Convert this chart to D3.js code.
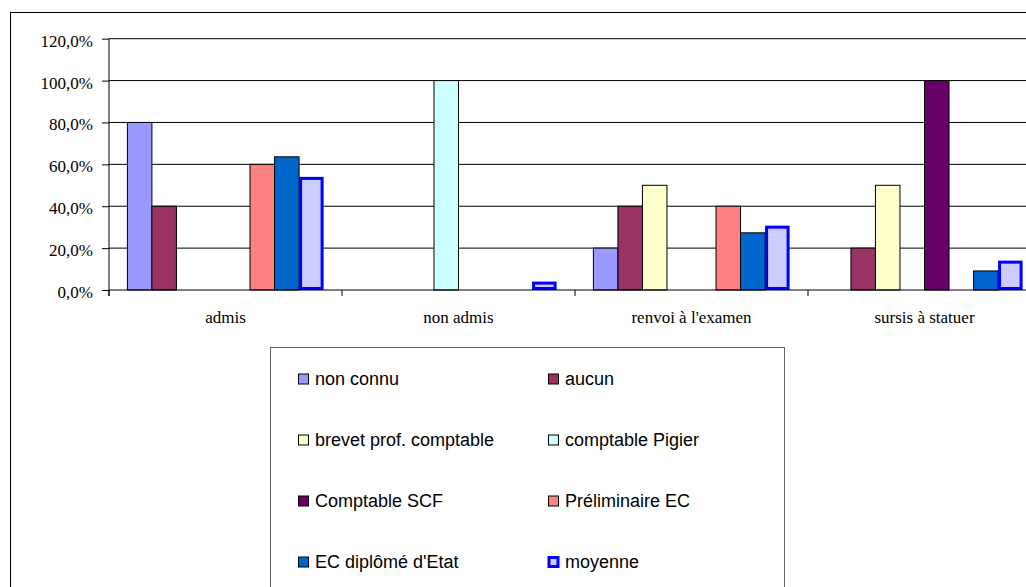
<!DOCTYPE html>
<html>
<head>
<meta charset="utf-8">
<script src="https://cdn.jsdelivr.net/npm/d3@7"></script>
<style>
  html, body { margin: 0; padding: 0; background: #fff; }
  svg { display: block; }
</style>
</head>
<body>
<svg id="chart" width="1026" height="587"></svg>
<script>
// ---- data ----
const categories = ["admis", "non admis", "renvoi à l'examen", "sursis à statuer"];
const seriesNames = ["non connu", "aucun", "brevet prof. comptable", "comptable Pigier",
                     "Comptable SCF", "Préliminaire EC", "EC diplômé d'Etat", "moyenne"];
const nonConnu     = [0.80, 0.00, 0.20, 0.00];
const aucun        = [0.40, 0.00, 0.40, 0.20];
const brevet       = [0.00, 0.00, 0.50, 0.50];
const pigier       = [0.00, 1.00, 0.00, 0.00];
const scf          = [0.00, 0.00, 0.00, 1.00];
const preliminaire = [0.60, 0.00, 0.40, 0.00];
const ecDiplome    = [0.636, 0.00, 0.273, 0.091];
const moyenne      = [0.533, 0.033, 0.300, 0.133];
const yTicks = [0, 0.2, 0.4, 0.6, 0.8, 1.0, 1.2];

const seriesValues = [nonConnu, aucun, brevet, pigier, scf, preliminaire, ecDiplome, moyenne];
const colors = ["#9999FF", "#993366", "#FFFFCC", "#CCFFFF", "#660066", "#FF8080", "#0066CC", "#CCCCFF"];

// ---- layout ----
const svg = d3.select("#chart");
const plot = { left: 109, right: 1041, top: 38.7, bottom: 290 };

// outer chart border (extends beyond the visible area on the right and bottom)
svg.append("rect")
  .attr("x", 10.5).attr("y", 12.5).attr("width", 1100).attr("height", 700)
  .attr("fill", "#fff").attr("stroke", "#000").attr("stroke-width", 1);

const y = d3.scaleLinear().domain([0, 1.2]).range([plot.bottom, plot.top]);
const gap = 1.5 / 9.5;
const x0 = d3.scaleBand().domain(categories).range([plot.left, plot.right])
  .paddingInner(gap).paddingOuter(gap / 2);
const x1 = d3.scaleBand().domain(d3.range(seriesNames.length)).range([0, x0.bandwidth()]).padding(0);

const loc = d3.formatLocale({ decimal: ",", thousands: " ", grouping: [3], currency: ["", " €"] });
const fmt = loc.format(".1%");

// gridlines
svg.append("g").selectAll("line").data(yTicks.filter(d => d > 0)).join("line")
  .attr("x1", plot.left).attr("x2", plot.right)
  .attr("y1", d => y(d)).attr("y2", d => y(d))
  .attr("stroke", "#000").attr("stroke-width", 1);

// y axis
const yAxis = d3.axisLeft(y).tickValues(yTicks).tickFormat(fmt).tickSize(7).tickPadding(9);
const gy = svg.append("g").attr("transform", `translate(${plot.left},0)`).call(yAxis);
gy.select(".domain").attr("stroke", "#000").attr("d", `M-0,${plot.top}V${plot.bottom + 6}`);
gy.selectAll(".tick line").attr("stroke", "#000");
gy.selectAll(".tick text").attr("font-family", "Liberation Serif, Times New Roman, serif")
  .attr("font-size", 17).attr("fill", "#000").attr("dy", "0.44em");

// bars
const groups = svg.append("g").selectAll("g").data(categories).join("g")
  .attr("transform", d => `translate(${x0(d)},0)`);
groups.selectAll("rect")
  .data((c, ci) => seriesValues.map((vals, si) => ({ si, v: vals[ci] })).filter(d => d.v > 0))
  .join("rect")
  .attr("x", d => x1(d.si) + (d.si === 7 ? 1.5 : 0))
  .attr("width", d => x1.bandwidth() - (d.si === 7 ? 3 : 0))
  .attr("y", d => y(d.v))
  .attr("height", d => y(0) - y(d.v) - (d.si === 7 ? 1.5 : 0))
  .attr("fill", d => colors[d.si])
  .attr("stroke", d => d.si === 7 ? "#0000FF" : "#000")
  .attr("stroke-width", d => d.si === 7 ? 3 : 1);

// x axis
const xAxisG = svg.append("g");
xAxisG.append("line").attr("x1", plot.left).attr("x2", plot.right)
  .attr("y1", y(0)).attr("y2", y(0)).attr("stroke", "#000");
const boundaries = categories.map(c => x0(c) - x0.step() * gap / 2).concat([plot.right]);
xAxisG.selectAll("line.tk").data(boundaries).join("line").attr("class", "tk")
  .attr("x1", d => d).attr("x2", d => d)
  .attr("y1", y(0)).attr("y2", y(0) + 6).attr("stroke", "#000");
xAxisG.selectAll("text").data(categories).join("text")
  .attr("x", d => x0(d) + x0.bandwidth() / 2)
  .attr("y", 323)
  .attr("text-anchor", "middle")
  .attr("font-family", "Liberation Serif, Times New Roman, serif")
  .attr("font-size", 17)
  .text(d => d);

// legend
const legend = svg.append("g");
legend.append("rect").attr("x", 270.5).attr("y", 347.5).attr("width", 514).attr("height", 400)
  .attr("fill", "#fff").attr("stroke", "#666").attr("stroke-width", 1);
const items = legend.selectAll("g.item").data(seriesNames).join("g").attr("class", "item")
  .attr("transform", (d, i) => `translate(${i % 2 === 0 ? 298 : 548},${379 + Math.floor(i / 2) * 61})`);
items.append("rect")
  .attr("x", (d, i) => i === 7 ? 1 : 0.5).attr("y", (d, i) => i === 7 ? -4.5 : -5)
  .attr("width", (d, i) => i === 7 ? 9 : 10).attr("height", (d, i) => i === 7 ? 9 : 10)
  .attr("fill", (d, i) => colors[i])
  .attr("stroke", (d, i) => i === 7 ? "#0000FF" : "#000")
  .attr("stroke-width", (d, i) => i === 7 ? 3 : 1);
items.append("text").attr("x", 17).attr("y", 6)
  .attr("font-family", "Liberation Sans, Arial, sans-serif").attr("font-size", 18)
  .attr("fill", "#000")
  .text(d => d);
</script>
</body>
</html>
